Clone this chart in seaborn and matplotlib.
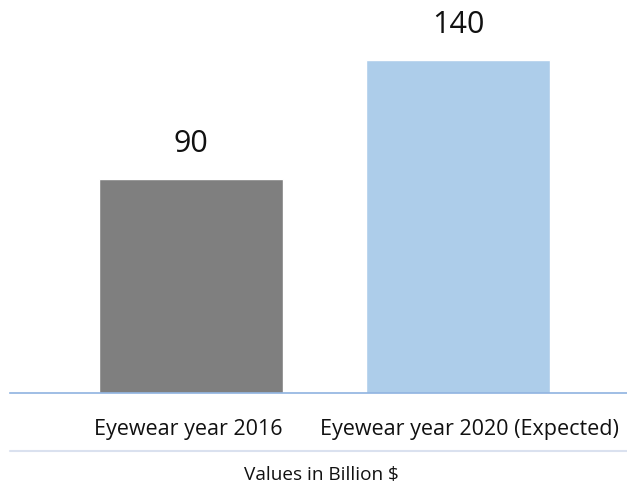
import matplotlib
matplotlib.use("Agg")
import matplotlib.pyplot as plt
import matplotlib.transforms as mtransforms
import seaborn as sns
from matplotlib.lines import Line2D

# data
categories = ["Eyewear year 2016", "Eyewear year 2020 (Expected)"]
values = [90, 140]
bar_colors = ["#7f7f7f", "#adcdea"]
axis_note = "Values in Billion $"

sns.set_style("white")
plt.rcParams['font.family'] = ['Open Sans', 'DejaVu Sans']

fig = plt.figure(figsize=(6.27, 4.89), dpi=100)
ax = fig.add_axes([10 / 627, 95 / 489, 617 / 627, 394 / 489])

sns.barplot(x=categories, y=values, hue=categories, palette=bar_colors,
            width=0.69, legend=False, ax=ax, saturation=1)

for c in ax.containers:
    ax.bar_label(c, fontsize=22, padding=15, color="#111111")

ax.set_xlim(-0.678, 1.633)
ax.set_ylim(0, 165.5)
ax.set_yticks([])
ax.tick_params(axis='x', length=0, pad=18, labelsize=15.5, labelcolor="#111111")

# the reference's long label sits a bit right of its bar
shifts = [-3, 11]
for lab, dx in zip(ax.get_xticklabels(), shifts):
    lab.set_transform(lab.get_transform() +
                      mtransforms.ScaledTranslation(dx / 100, 0, fig.dpi_scale_trans))

sns.despine(ax=ax, left=True, top=True, right=True)
ax.spines['bottom'].set_color("#8fb3e0")
ax.spines['bottom'].set_linewidth(1.2)

# lower separator line and unit note
fig.add_artist(Line2D([10 / 627, 1.0], [37 / 489, 37 / 489],
                      color="#dae1ef", linewidth=1.5, transform=fig.transFigure))
fig.text(321 / 627, 14 / 489, axis_note, ha="center", va="center",
         fontsize=13.7, color="#111111")

fig.savefig("out.png", dpi=100)
